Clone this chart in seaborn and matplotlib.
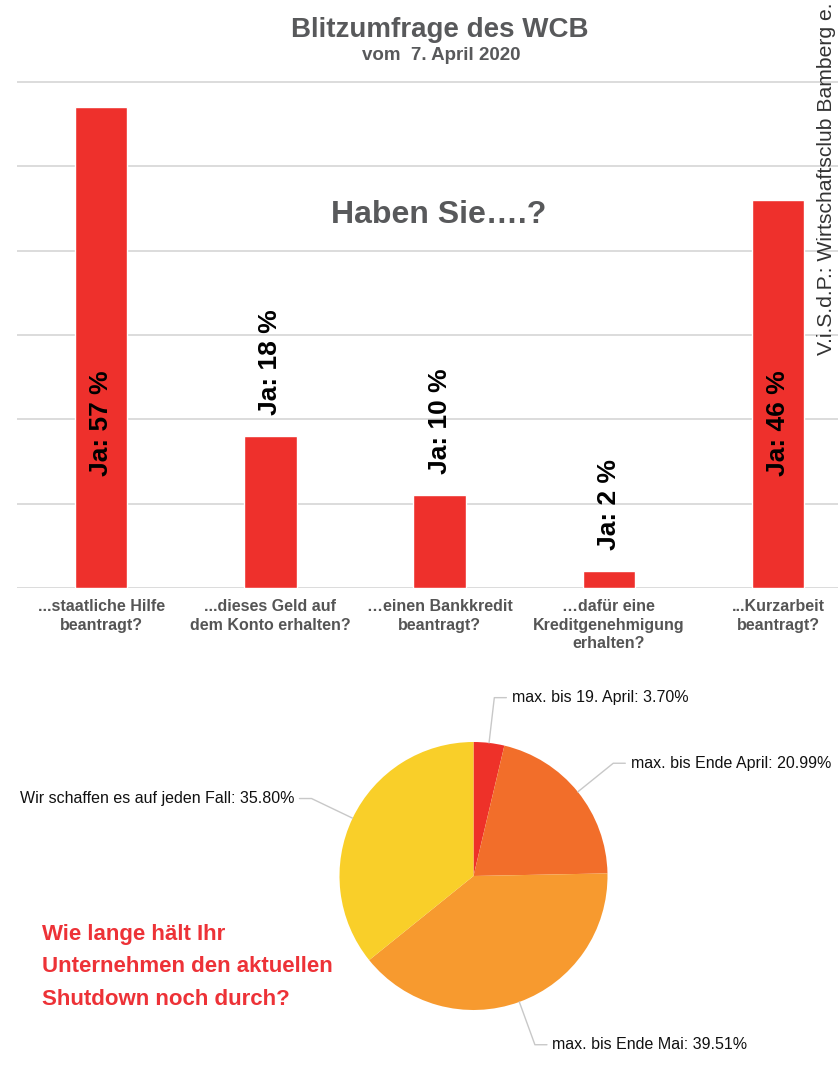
import numpy as np
import pandas as pd
import matplotlib
matplotlib.use("Agg")
import matplotlib.pyplot as plt
import seaborn as sns

# Balkendiagramm
fragen = ["...staatliche Hilfe\nbeantragt?",
          "...dieses Geld auf\ndem Konto erhalten?",
          "…einen Bankkredit\nbeantragt?",
          "…dafür eine\nKreditgenehmigung\nerhalten?",
          "...Kurzarbeit\nbeantragt?"]
ja_werte = [57, 18, 11, 2, 46]
ja_texte = ["Ja: 57 %", "Ja: 18 %", "Ja: 10 %", "Ja: 2 %", "Ja: 46 %"]

# Tortendiagramm
dauer = ["max. bis 19. April", "max. bis Ende April", "max. bis Ende Mai",
         "Wir schaffen es auf jeden Fall"]
anteile = [3.70, 20.99, 39.51, 35.80]
farben = ["#EE3129", "#F26E2A", "#F79A2F", "#F9CF29"]

sns.set_theme(style="white")
plt.rcParams['font.family'] = ['Liberation Sans', 'DejaVu Sans']

W, H = 838, 1069
fig = plt.figure(figsize=(W / 100, H / 100), dpi=100)
grau = "#58595B"

# --- Balken ---
px_unit = 506 / 60
ymax = 61
ax = fig.add_axes([16.5 / W, (H - 588) / H, 1 - 16.5 / W, ymax * px_unit / H])
df = pd.DataFrame({'Frage': fragen, 'Ja': ja_werte})
sns.barplot(data=df, x='Frage', y='Ja', color='#EE302C', saturation=1,
            width=0.31, ax=ax)
ax.set_xlim(-0.5, (W - 101) / 169.25)
ax.set_ylim(0, ymax)
ax.set_yticks(range(0, 61, 10))
ax.set_yticklabels([])
ax.yaxis.grid(True, color='#d6d6d6', linewidth=1.2)
ax.set_axisbelow(True)
for s in ax.spines.values():
    s.set_visible(False)
ax.set_xlabel('')
ax.set_ylabel('')
ax.tick_params(axis='x', length=0, pad=8)
ax.tick_params(axis='y', length=0)
for lbl in ax.get_xticklabels():
    lbl.set_fontweight('bold')
    lbl.set_fontsize(11.5)
    lbl.set_color('#555555')
    lbl.set_va('top')
    lbl.set_linespacing(1.3)

for i, (v, t) in enumerate(zip(ja_werte, ja_texte)):
    if v > 30:
        ax.text(i, 19.5, t, rotation=90, ha='center', va='center',
                fontsize=19, fontweight='bold', color='black')
    else:
        ax.text(i, v + 2.5, t, rotation=90, ha='center', va='bottom',
                fontsize=19, fontweight='bold', color='black')

fig.text(439 / W, 1 - 215 / H, "Haben Sie….?", ha='center', va='center',
         fontsize=23, fontweight='bold', color=grau)
fig.text(440 / W, 1 - 30 / H, "Blitzumfrage des WCB", ha='center', va='center',
         fontsize=20, fontweight='bold', color=grau)
fig.text(441 / W, 1 - 56 / H, "vom  7. April 2020", ha='center', va='center',
         fontsize=13.5, fontweight='bold', color=grau)
fig.text(826 / W, 1 - 355 / H, "V.i.S.d.P.: Wirtschaftsclub Bamberg e.",
         rotation=90, ha='center', va='bottom', fontsize=15.2, color='#333333')

# --- Torte ---
R = 134
ax2 = fig.add_axes([(473.5 - 1.5 * R) / W, (H - 876 - 1.5 * R) / H,
                    3 * R / W, 3 * R / H])
wedges, _ = ax2.pie(anteile, colors=farben, startangle=90, counterclock=False,
                    radius=1, wedgeprops=dict(linewidth=0))
ax2.set_xlim(-1.5, 1.5)
ax2.set_ylim(-1.5, 1.5)
ax2.set_aspect('equal')
ax2.axis('off')

for w, name, a in zip(wedges, dauer, anteile):
    ang = np.deg2rad((w.theta1 + w.theta2) / 2)
    c, s = np.cos(ang), np.sin(ang)
    seite = 1 if c >= 0 else -1
    x1, y1 = 1.34 * c, 1.34 * s
    x2 = x1 + seite * 0.09
    ax2.plot([c, x1, x2], [s, y1, y1], color='#c8c8c8', lw=1, clip_on=False)
    ax2.text(x2 + seite * 0.04, y1, f"{name}: {a:.2f}%",
             ha='left' if seite > 0 else 'right', va='center',
             fontsize=11.5, color='#111111', clip_on=False)

fig.text(42 / W, 1 - 967 / H,
         "Wie lange hält Ihr\nUnternehmen den aktuellen\nShutdown noch durch?",
         ha='left', va='center', fontsize=16, fontweight='bold',
         color='#ED3237', linespacing=1.72)

fig.savefig("out.png", dpi=100)
